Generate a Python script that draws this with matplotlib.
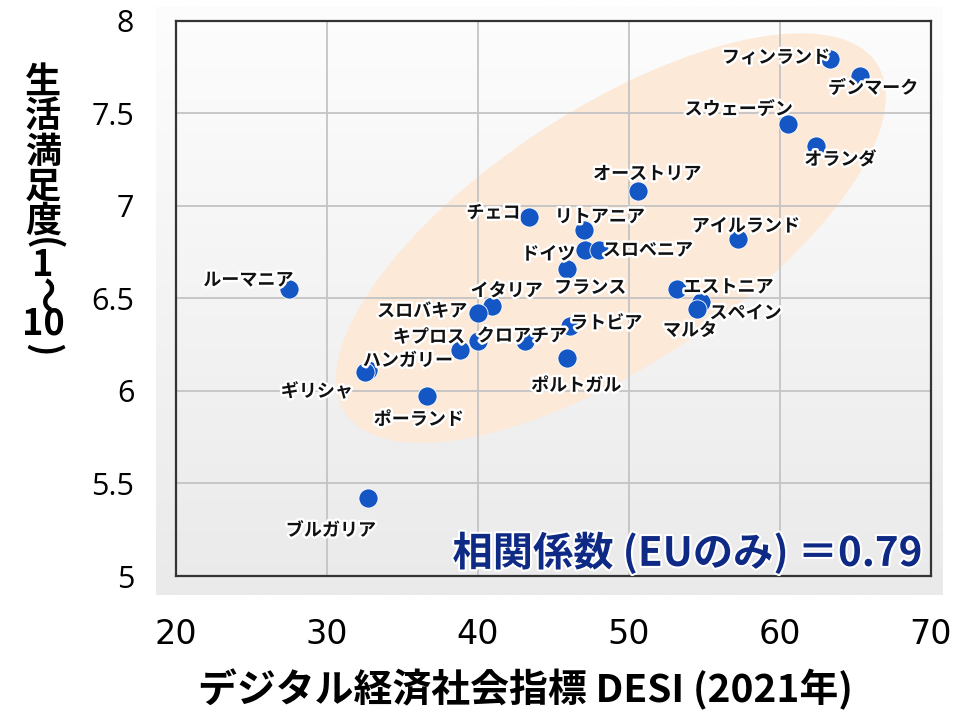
import numpy as np
import matplotlib
matplotlib.use("Agg")
import matplotlib.pyplot as plt
import matplotlib.patheffects as pe
from matplotlib.patches import Ellipse
from matplotlib.transforms import Affine2D

plt.rcParams['font.family'] = ['Noto Sans CJK JP', 'DejaVu Sans']

# EU countries: DESI score (2021) vs life satisfaction (1-10)
countries = ["フィンランド", "デンマーク", "スウェーデン", "オランダ", "オーストリア",
             "チェコ", "リトアニア", "ドイツ", "スロベニア", "フランス",
             "アイルランド", "エストニア", "スペイン", "マルタ", "ルーマニア",
             "イタリア", "スロバキア", "", "キプロス", "クロアチア",
             "ラトビア", "ポルトガル", "ハンガリー", "ギリシャ", "ポーランド",
             "ブルガリア"]
desi = [63.3, 65.3, 60.5, 62.4, 50.6,
        43.4, 47.0, 47.1, 48.0, 45.9,
        57.2, 53.2, 54.8, 54.5, 27.5,
        40.9, 40.0, 40.0, 38.8, 43.1,
        46.1, 45.9, 32.7, 32.5, 36.6,
        32.7]
life_sat = [7.79, 7.70, 7.44, 7.32, 7.08,
            6.94, 6.87, 6.76, 6.76, 6.66,
            6.82, 6.55, 6.48, 6.44, 6.55,
            6.46, 6.42, 6.27, 6.22, 6.27,
            6.35, 6.18, 6.11, 6.10, 5.97,
            5.42]

x_ticks = [20, 30, 40, 50, 60, 70]
y_ticks = [5, 5.5, 6, 6.5, 7, 7.5, 8]
y_tick_labels = ["5", "5.5", "6", "6.5", "7", "7.5", "8"]
corr_text = "相関係数 (EUのみ) ＝0.79"

# label offsets in pixels (dx, dy) from each point
label_offsets = [(-54, 2), (13, -12), (-49, 15), (24, -13), (9, 17),
                 (-36, 4), (16, 13), (-37, -4), (49, 0), (23, -19),
                 (8, 13), (51, 2), (44, -11), (-7, -21), (-41, 9),
                 (15, 15), (-56, 2), (0, 0), (-31, 13), (-3, 5),
                 (36, 3), (9, -28), (40, 10), (-48, -19), (-8, -23),
                 (-37, -32)]

W, H = 970, 714
fig = plt.figure(figsize=(W / 100, H / 100), dpi=100)

# gray gradient panel behind the plot
bg = fig.add_axes([156 / W, 1 - 595 / H, (943 - 156) / W, (595 - 6) / H])
grad = np.linspace(0, 1, 256).reshape(-1, 1)
bg.imshow(grad, aspect='auto', cmap=matplotlib.colors.LinearSegmentedColormap.from_list(
    'g', ['#fdfdfd', '#eaeaea']), extent=[0, 1, 0, 1], origin='upper')
bg.axis('off')

ax = fig.add_axes([176 / W, 1 - 576 / H, (931 - 176) / W, (576 - 20.5) / H])
ax.set_facecolor('none')
ax.set_xlim(20, 70)
ax.set_ylim(5, 8)
ax.set_xticks(x_ticks)
ax.set_yticks(y_ticks)
ax.set_yticklabels(y_tick_labels)
ax.grid(True, color='#c4c4c4', lw=1.3)
ax.set_axisbelow(True)
for s in ax.spines.values():
    s.set_color('#333333')
    s.set_linewidth(1.6)
ax.tick_params(length=0)
ax.tick_params(axis='y', pad=30, labelsize=22)
ax.tick_params(axis='x', pad=30, labelsize=24)
for t in ax.get_xticklabels():
    t.set_family(['Liberation Sans Narrow', 'DejaVu Sans'])
for t in ax.get_yticklabels():
    t.set_family(['Open Sans', 'DejaVu Sans'])

# highlight ellipse, drawn in pixel space
cx, cy = ax.transData.transform((48.8, 6.825))
ell = Ellipse((0, 0), 636, 256, angle=33.3, facecolor='#fde9d7', edgecolor='none',
              transform=Affine2D().translate(cx, cy), zorder=0.5)
ax.add_artist(ell)

ax.scatter(desi, life_sat, s=190, color='#1456c4', edgecolor='white', linewidth=0.6, zorder=3)

stroke = [pe.withStroke(linewidth=3.5, foreground='white')]
for name, x, y, (dx, dy) in zip(countries, desi, life_sat, label_offsets):
    if not name:
        continue
    ax.annotate(name, (x, y), xytext=(dx, dy), textcoords='offset pixels',
                ha='center', va='center', fontsize=13, fontweight='bold',
                color='#111111', path_effects=stroke, zorder=4)

ax.text(0.988, 0.04, corr_text, transform=ax.transAxes, ha='right', va='center',
        fontsize=29, fontweight='bold', color='#0e2a85',
        path_effects=[pe.withStroke(linewidth=3, foreground='white')], zorder=5)

fig.text(525 / W, 1 - 690 / H, "デジタル経済社会指標 DESI (2021年)", ha='center', va='center',
         fontsize=28, fontweight='bold')

# vertical y-axis title, stacked glyphs (brackets and tilde turned sideways)
ylabel_chars = [("生", 82, 0), ("活", 117, 0), ("満", 152, 0), ("足", 187, 0), ("度", 221, 0),
                ("(", 244, 270), ("1", 266, 0), ("～", 295, 270), ("10", 324, 0), (")", 350, 270)]
for ch, py, rot in ylabel_chars:
    fig.text(43 / W, 1 - py / H, ch, ha='center', va='center', fontsize=26,
             fontweight='bold', rotation=rot, rotation_mode='anchor')

fig.savefig("out.png", dpi=100)
